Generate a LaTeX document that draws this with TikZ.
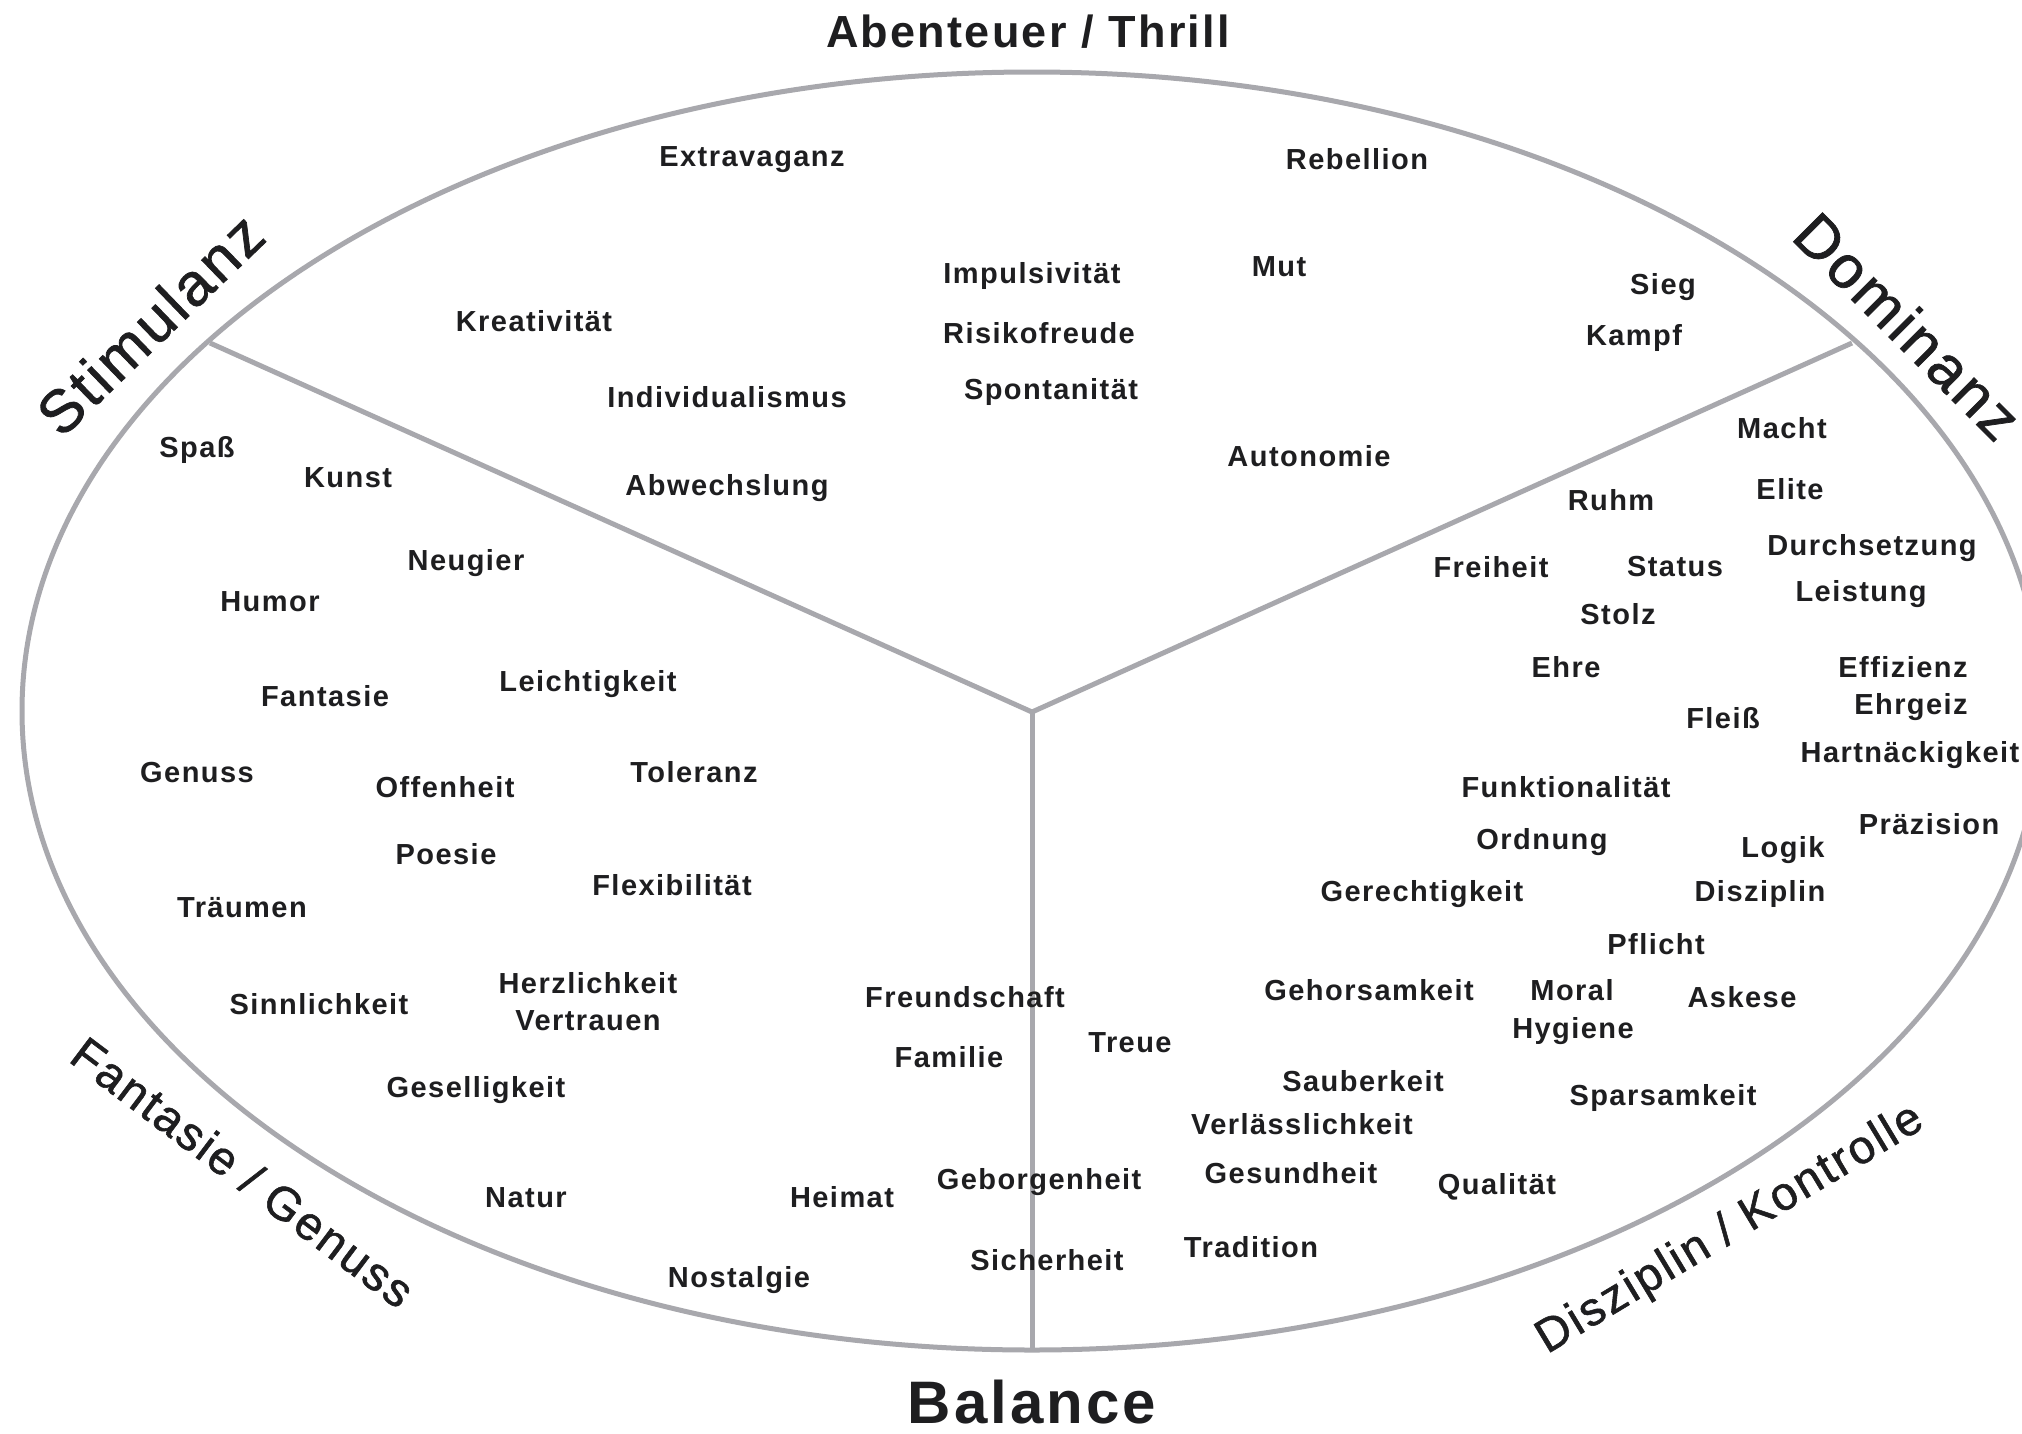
\documentclass[tikz,border=0pt]{standalone}
\usepackage{fontspec}
\setmainfont{Liberation Sans}
\newfontfamily\wordfont[LetterSpace=5]{Liberation Sans}
\newfontfamily\labelfont[LetterSpace=5, FakeBold=1.2]{Liberation Sans}
\definecolor{ink}{RGB}{30,30,32}
\definecolor{rim}{RGB}{168,168,173}

\begin{document}
\begin{tikzpicture}[x=1pt, y=-1pt,
  word/.style={font=\wordfont\bfseries\fontsize{29}{34}\selectfont, text=ink,
    inner sep=0pt, text height=21pt, text depth=0pt, anchor=center},
  pole/.style={font=\wordfont\bfseries\fontsize{45}{50}\selectfont, text=ink,
    inner sep=0pt, text height=32pt, text depth=0pt, anchor=center},
  base/.style={font=\wordfont\bfseries\fontsize{60}{66}\selectfont, text=ink,
    inner sep=0pt, text height=43pt, text depth=0pt, anchor=center},
  corner/.style={font=\labelfont\fontsize{60}{66}\selectfont, text=ink,
    inner sep=0pt, text height=43pt, text depth=0pt, anchor=center},
  edge/.style={font=\labelfont\fontsize{47}{52}\selectfont, text=ink,
    inner sep=0pt, text height=33.6pt, text depth=0pt, anchor=center},
  rimline/.style={draw=rim, line width=5pt}
]
\useasboundingbox (0,0) rectangle (2022,1433);
\clip (0,0) rectangle (2022,1433);
\fill[white] (0,0) rectangle (2022,1433);

% outer ring and the three dividing spokes
\coordinate (hub) at (1032,712);
\coordinate (spokeL) at (210,343);
\coordinate (spokeR) at (1852,343);
\coordinate (spokeB) at (1032,1350);
\draw[rimline] (1032,711) ellipse [x radius=1010, y radius=639];
\draw[rimline, line join=round] (spokeL) -- (hub) -- (spokeR);
\draw[rimline] (hub) -- (spokeB);

% pole labels around the ring
\node[pole] (abenteuer) at (1028,31) {Abenteuer / Thrill};
\node[base] (balance) at (1032,1402) {Balance};
\node[corner, rotate=44] (stimulanz) at (150,324) {Stimulanz};
\node[corner, rotate=-45] (dominanz) at (1908,326) {Dominanz};
\node[edge, rotate=-37] (fantasie) at (243,1172) {Fantasie / Genuss};
\node[edge, rotate=31] (disziplin) at (1728,1226) {Disziplin / Kontrolle};

% upper sector
\node[word] (extravaganz) at (752,156) {Extravaganz};
\node[word] (rebellion) at (1357,159) {Rebellion};
\node[word] (kreativitaet) at (534,321) {Kreativität};
\node[word] (impulsivitaet) at (1032,273) {Impulsivität};
\node[word] (mut) at (1279,266) {Mut};
\node[word] (risikofreude) at (1039,333) {Risikofreude};
\node[word] (sieg) at (1663,284) {Sieg};
\node[word] (kampf) at (1634,335) {Kampf};
\node[word] (individualismus) at (727,397) {Individualismus};
\node[word] (spontanitaet) at (1051,389) {Spontanität};
\node[word] (abwechslung) at (727,485) {Abwechslung};
\node[word] (autonomie) at (1309,456) {Autonomie};

% left sector
\node[word] (spass) at (197,447) {Spaß};
\node[word] (kunst) at (348,477) {Kunst};
\node[word] (neugier) at (466,560) {Neugier};
\node[word] (humor) at (270,601) {Humor};
\node[word] (leichtigkeit) at (588,681) {Leichtigkeit};
\node[word] (fantasiew) at (325,696) {Fantasie};
\node[word] (genuss) at (197,772) {Genuss};
\node[word] (offenheit) at (445,787) {Offenheit};
\node[word] (toleranz) at (694,772) {Toleranz};
\node[word] (poesie) at (446,854) {Poesie};
\node[word] (flexibilitaet) at (672,885) {Flexibilität};
\node[word] (traeumen) at (242,907) {Träumen};
\node[word] (herzlichkeit) at (588,983) {Herzlichkeit};
\node[word] (vertrauen) at (588,1020) {Vertrauen};
\node[word] (sinnlichkeit) at (319,1004) {Sinnlichkeit};
\node[word] (geselligkeit) at (476,1087) {Geselligkeit};
\node[word] (natur) at (526,1197) {Natur};
\node[word] (heimat) at (842,1197) {Heimat};
\node[word] (nostalgie) at (739,1277) {Nostalgie};

% around the lower spoke
\node[word] (freundschaft) at (965,997) {Freundschaft};
\node[word] (familie) at (949,1057) {Familie};
\node[word] (treue) at (1130,1042) {Treue};
\node[word] (geborgenheit) at (1039,1179) {Geborgenheit};
\node[word] (sicherheit) at (1047,1260) {Sicherheit};

% right sector
\node[word] (macht) at (1782,428) {Macht};
\node[word] (elite) at (1790,489) {Elite};
\node[word] (ruhm) at (1611,500) {Ruhm};
\node[word] (durchsetzung) at (1872,545) {Durchsetzung};
\node[word] (leistung) at (1861,591) {Leistung};
\node[word] (freiheit) at (1491,567) {Freiheit};
\node[word] (status) at (1675,566) {Status};
\node[word] (stolz) at (1618,614) {Stolz};
\node[word] (ehre) at (1566,667) {Ehre};
\node[word] (effizienz) at (1903,667) {Effizienz};
\node[word] (ehrgeiz) at (1911,704) {Ehrgeiz};
\node[word] (fleiss) at (1723,718) {Fleiß};
\node[word] (hartnaeckigkeit) at (1910,752) {Hartnäckigkeit};
\node[word] (funktionalitaet) at (1566,787) {Funktionalität};
\node[word] (praezision) at (1929,824) {Präzision};
\node[word] (ordnung) at (1542,839) {Ordnung};
\node[word] (logik) at (1783,847) {Logik};
\node[word] (gerechtigkeit) at (1422,891) {Gerechtigkeit};
\node[word] (disziplinw) at (1760,891) {Disziplin};
\node[word] (pflicht) at (1656,944) {Pflicht};
\node[word] (gehorsamkeit) at (1369,990) {Gehorsamkeit};
\node[word] (moral) at (1572,990) {Moral};
\node[word] (askese) at (1742,997) {Askese};
\node[word] (hygiene) at (1573,1028) {Hygiene};
\node[word] (sauberkeit) at (1363,1081) {Sauberkeit};
\node[word] (sparsamkeit) at (1663,1095) {Sparsamkeit};
\node[word] (verlaesslichkeit) at (1302,1124) {Verlässlichkeit};
\node[word] (gesundheit) at (1291,1173) {Gesundheit};
\node[word] (qualitaet) at (1497,1184) {Qualität};
\node[word] (tradition) at (1251,1247) {Tradition};
\end{tikzpicture}
\end{document}
